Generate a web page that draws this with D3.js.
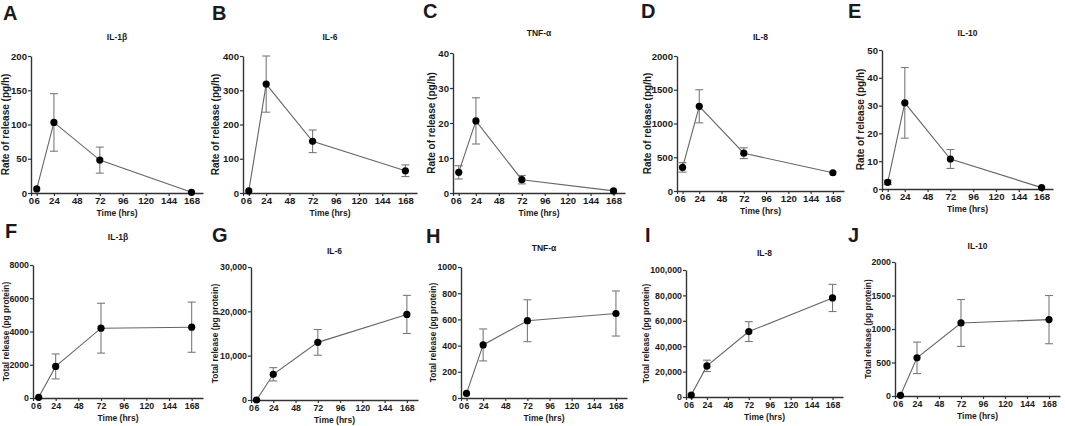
<!DOCTYPE html>
<html>
<head>
<meta charset="utf-8">
<script src="https://cdn.jsdelivr.net/npm/d3@7"></script>
<style>
  body { margin: 0; background: #fff; }
  svg text { font-family: "Liberation Sans", Arial, sans-serif; font-weight: bold; fill: #1a1a1a; }
</style>
</head>
<body>
<div id="d3-container"></div>
<script>
// Cytokine names, time points and axis ticks
const cytokines = ["IL-1β", "IL-6", "TNF-α", "IL-8", "IL-10"];
const hours = [6, 24, 72, 168];
const xTicks = [0, 6, 24, 48, 72, 96, 120, 144, 168];

// Rate of release (pg/h): mean and SD per cytokine
const rateMean = [
  [6, 103, 48, 1],
  [6, 318, 151, 65],
  [5.9, 20.6, 3.8, 0.6],
  [350, 1255, 560, 270],
  [2.4, 31, 10.8, 0.5]
];
const rateSD = [
  [0, 42, 19, 0],
  [0, 82, 33, 17],
  [1.9, 6.6, 1.2, 0],
  [70, 245, 80, 0],
  [0.8, 12.7, 3.4, 0]
];
const rateMax = [200, 400, 40, 2000, 50];
const rateTicks = [
  [0, 50, 100, 150, 200],
  [0, 100, 200, 300, 400],
  [0, 10, 20, 30, 40],
  [0, 500, 1000, 1500, 2000],
  [0, 10, 20, 30, 40, 50]
];

// Total release (pg protein): mean and SD per cytokine
const totalMean = [
  [40, 1900, 4200, 4260],
  [0, 5800, 13000, 19300],
  [35, 405, 590, 645],
  [1500, 24500, 51500, 78000],
  [10, 570, 1090, 1140]
];
const totalSD = [
  [0, 750, 1500, 1510],
  [0, 1500, 2900, 4300],
  [0, 122, 160, 172],
  [0, 4500, 7800, 10700],
  [0, 235, 350, 360]
];
const totalMax = [8000, 30000, 1000, 100000, 2000];
const totalTicks = [
  [0, 2000, 4000, 6000, 8000],
  [0, 10000, 20000, 30000],
  [0, 200, 400, 600, 800, 1000],
  [0, 20000, 40000, 60000, 80000, 100000],
  [0, 500, 1000, 1500, 2000]
];

// panel boxes (pixels)
const topLayout = [
  { letter: "A", lx: 3, ly: 20, x0: 31, x1: 203, top: 56, bottom: 193, ty: 37, yt: -26 },
  { letter: "B", lx: 212, ly: 20, x0: 243, x1: 417, top: 56, bottom: 193, ty: 37, yt: -28 },
  { letter: "C", lx: 423, ly: 18, x0: 453, x1: 625, top: 53, bottom: 193, ty: 33, yt: -22 },
  { letter: "D", lx: 641, ly: 18, x0: 677, x1: 844, top: 56, bottom: 191, ty: 37, yt: -30 },
  { letter: "E", lx: 848, ly: 18, x0: 882, x1: 1053, top: 50, bottom: 189, ty: 33, yt: -22 }
];
const bottomLayout = [
  { letter: "F", lx: 5, ly: 238, x0: 33, x1: 203, top: 265, bottom: 398, ty: 237, yt: -27 },
  { letter: "G", lx: 212, ly: 242, x0: 251, x1: 418, top: 267, bottom: 400, ty: 251, yt: -36 },
  { letter: "H", lx: 426, ly: 243, x0: 461, x1: 627, top: 267, bottom: 398, ty: 248, yt: -28 },
  { letter: "I", lx: 645, ly: 242, x0: 686, x1: 843, top: 270, bottom: 397, ty: 253, yt: -40 },
  { letter: "J", lx: 848, ly: 242, x0: 895, x1: 1060, top: 262, bottom: 396, ty: 246, yt: -27 }
];

const width = 1065;
const height = 426;

const svg = d3.select("#d3-container")
  .append("svg")
  .attr("width", width)
  .attr("height", height);

const fmt = v => v >= 10000 ? d3.format(",")(v) : String(v);

function panel(L, name, means, sds, ymax, yticks, ytitle, tickFont, ytitleFont) {
  const g = svg.append("g");

  const x = d3.scaleLinear().domain([0, 180]).range([L.x0, L.x1]);
  const y = d3.scaleLinear().domain([0, ymax]).range([L.bottom, L.top]);

  // letter + title
  g.append("text").attr("x", L.lx).attr("y", L.ly)
    .attr("font-size", "20px").attr("fill", "#000").text(L.letter);
  g.append("text").attr("x", (L.x0 + L.x1) / 2).attr("y", L.ty)
    .attr("text-anchor", "middle").attr("dominant-baseline", "central")
    .attr("font-size", "8.5px").text(name);

  // axes
  const xa = g.append("g")
    .attr("transform", `translate(0,${L.bottom})`)
    .call(d3.axisBottom(x).tickValues(xTicks).tickSizeInner(3).tickSizeOuter(0).tickPadding(1.5));
  const ya = g.append("g")
    .attr("transform", `translate(${L.x0},0)`)
    .call(d3.axisLeft(y).tickValues(yticks).tickFormat(fmt).tickSizeInner(3).tickSizeOuter(0).tickPadding(1));
  [xa, ya].forEach(a => {
    a.attr("font-size", tickFont);
    a.selectAll("path").attr("stroke", "#333").attr("stroke-width", 1.4);
    a.selectAll("line").attr("stroke", "#333").attr("stroke-width", 1.2);
    a.selectAll("text").attr("fill", "#1a1a1a").style("font-size", tickFont)
      .style("font-family", "'Liberation Sans', Arial, sans-serif").style("font-weight", "bold");
  });

  g.append("text").attr("x", (L.x0 + L.x1) / 2).attr("y", L.bottom + 20)
    .attr("text-anchor", "middle").attr("dominant-baseline", "central")
    .attr("font-size", "8.5px").text("Time (hrs)");
  g.append("text")
    .attr("transform", `translate(${L.x0 + L.yt},${(L.top + L.bottom) / 2}) rotate(-90)`)
    .attr("text-anchor", "middle").attr("dominant-baseline", "central")
    .attr("font-size", ytitleFont).text(ytitle);

  const pts = hours.map((h, i) => ({ h: h, m: means[i], s: sds[i] }));

  // error bars
  const eb = g.append("g").attr("stroke", "#7a7a7a").attr("stroke-width", 1.1);
  pts.filter(d => d.s > 0).forEach(d => {
    eb.append("line").attr("x1", x(d.h)).attr("x2", x(d.h))
      .attr("y1", y(d.m + d.s)).attr("y2", y(Math.max(0, d.m - d.s)));
    [d.m + d.s, Math.max(0, d.m - d.s)].forEach(v => {
      eb.append("line").attr("x1", x(d.h) - 4).attr("x2", x(d.h) + 4)
        .attr("y1", y(v)).attr("y2", y(v));
    });
  });

  // mean line
  g.append("path").datum(pts)
    .attr("fill", "none").attr("stroke", "#666").attr("stroke-width", 1.1)
    .attr("d", d3.line().x(d => x(d.h)).y(d => y(d.m)));

  g.append("g").selectAll("circle").data(pts).join("circle")
    .attr("cx", d => x(d.h)).attr("cy", d => y(d.m)).attr("r", 3.6)
    .attr("fill", "#000");
}

cytokines.forEach((c, i) => {
  panel(topLayout[i], c, rateMean[i], rateSD[i], rateMax[i], rateTicks[i],
    "Rate of release (pg/h)", "9.6px", "10px");
  panel(bottomLayout[i], c, totalMean[i], totalSD[i], totalMax[i], totalTicks[i],
    "Total release (pg protein)", "8.8px", "8.4px");
});
</script>
</body>
</html>
